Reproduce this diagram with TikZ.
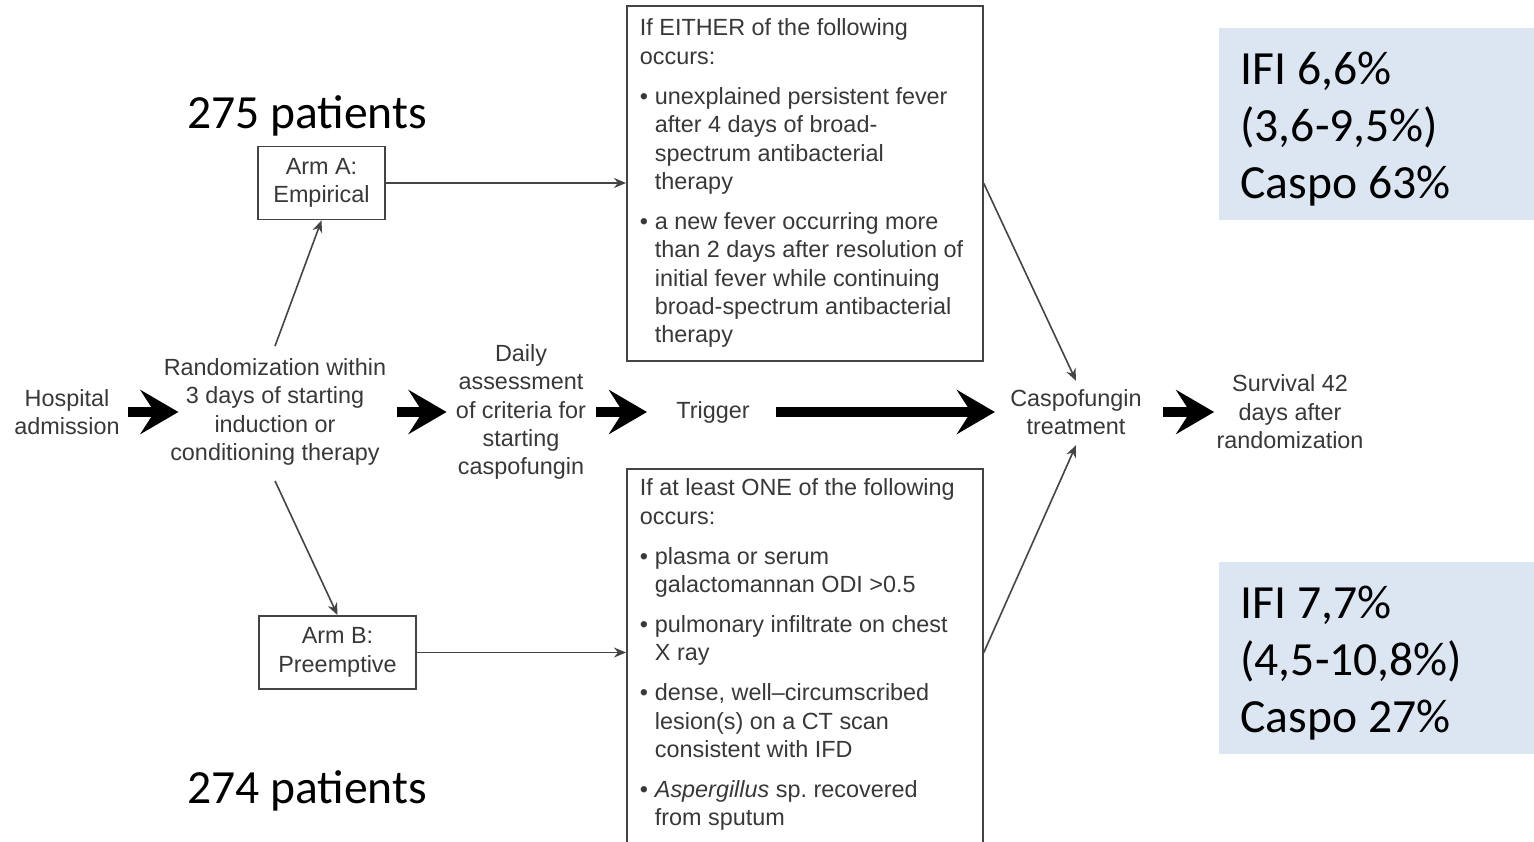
\documentclass[tikz,border=0pt]{standalone}
\usepackage{fontspec}
\setmainfont{Liberation Sans}
\newfontfamily\calibri{Carlito}
\usetikzlibrary{arrows.meta}

\definecolor{txtgray}{HTML}{383838}
\definecolor{linegray}{HTML}{444444}
\definecolor{statblue}{HTML}{DCE6F2}

\newcommand{\critbullet}{\makebox[7.5pt][l]{\textbullet}}
\newcommand{\critindent}{\hspace*{7.5pt}}

\tikzset{
  plainspace/.style={execute at begin node={\spaceskip=0pt\relax\xspaceskip=0pt\relax}},
  lbl/.style={align=center, inner sep=0pt, text=txtgray,
    font=\fontsize{11.7}{14.2}\selectfont},
  armbox/.style={lbl, draw=linegray, line width=0.9pt, minimum height=36.5pt},
  critbox/.style={draw=linegray, line width=0.9pt, anchor=north west,
    align=left, text width=165pt, inner xsep=6.5pt, inner ysep=5pt, plainspace,
    text=txtgray, font=\fontsize{11.7}{14.2}\selectfont},
  statbox/.style={fill=statblue, anchor=north west, align=left, plainspace,
    text width=139pt, inner xsep=10.5pt, minimum height=96pt, text depth=56pt,
    font=\calibri\fontsize{23.8}{28.5}\selectfont},
  ptslbl/.style={font=\calibri\fontsize{23.8}{28.5}\selectfont},
  bigarrow/.style={line width=5pt, -{Stealth[length=19pt,width=22pt,inset=7pt]}},
  thinarrow/.style={line width=0.8pt, draw=linegray, -{Stealth[length=6pt,width=5pt]}}
}

\begin{document}
\begin{tikzpicture}[x=0.5pt,y=-0.5pt]
  \useasboundingbox (0,0) rectangle (1534,841);
  % main row
  \node[lbl] (hosp) at (67,412) {Hospital\\admission};
  \node[lbl] (rand) at (275,412) {Randomization within\\3 days of starting\\induction or\\conditioning therapy};
  \node[lbl] (daily) at (521,412) {Daily\\assessment\\of criteria for\\starting\\caspofungin};
  \node[lbl] (trig) at (713,412) {Trigger};
  \node[lbl] (casp) at (1076,412) {Caspofungin\\treatment};
  \node[lbl] (surv) at (1290,412) {Survival 42\\days after\\randomization};
  % arms
  \node[armbox, minimum width=63.5pt] (armA) at (321.5,183) {Arm A:\\Empirical};
  \node[armbox, minimum width=78.5pt] (armB) at (337.5,652.5) {Arm B:\\Preemptive};
  \node[ptslbl] (ptsA) at (307,116) {275 patients};
  \node[ptslbl] (ptsB) at (307,791) {274 patients};
  % criteria boxes
  \node[critbox, minimum height=177.5pt] (critA) at (626,5) {If EITHER of the following\\
    occurs:\\[5.75pt]
    \critbullet unexplained persistent fever\\
    \critindent after 4 days of broad-\\
    \critindent spectrum antibacterial\\
    \critindent therapy\\[5.75pt]
    \critbullet a new fever occurring more\\
    \critindent than 2 days after resolution of\\
    \critindent initial fever while continuing\\
    \critindent broad-spectrum antibacterial\\
    \critindent therapy};
  \node[critbox, text depth=200pt] (critB) at (626,468) {If at least ONE of the following\\
    occurs:\\[5.75pt]
    \critbullet plasma or serum\\
    \critindent galactomannan ODI >0.5\\[5.75pt]
    \critbullet pulmonary infiltrate on chest\\
    \critindent X ray\\[5.75pt]
    \critbullet dense, well--circumscribed\\
    \critindent lesion(s) on a CT scan\\
    \critindent consistent with IFD\\[5.75pt]
    \critbullet \textit{Aspergillus} sp.\ recovered\\
    \critindent from sputum};
  % results
  \node[statbox] (resA) at (1219,28) {IFI 6,6\%\\(3,6-9,5\%)\\Caspo 63\%};
  \node[statbox] (resB) at (1219,562) {IFI 7,7\%\\(4,5-10,8\%)\\Caspo 27\%};

  % links
  \draw[bigarrow] ([xshift=4pt]hosp.east) -- ([xshift=7.5pt]rand.west);
  \draw[bigarrow] ([xshift=5pt]rand.east) -- ([xshift=-4.5pt]daily.west);
  \draw[bigarrow] ([xshift=5pt]daily.east) -- ([xshift=-14.5pt]trig.west);
  \draw[bigarrow] ([xshift=13pt]trig.east) -- ([xshift=-7.5pt]casp.west);
  \draw[bigarrow] ([xshift=10.5pt]casp.east) -- ([xshift=-1pt]surv.west);
  \draw[thinarrow] ([yshift=6pt]rand.north) -- (armA.south);
  \draw[thinarrow] ([yshift=-7.5pt]rand.south) -- (armB.north);
  \draw[thinarrow] (armA.east) -- (armA.east -| critA.west);
  \draw[thinarrow] (armB.east) -- (armB.east -| critB.west);
  \draw[thinarrow] (critA.east) -- ([yshift=4pt]casp.north);
  \draw[thinarrow] (armB.east -| critB.east) -- ([yshift=-5pt]casp.south);
\end{tikzpicture}
\end{document}
